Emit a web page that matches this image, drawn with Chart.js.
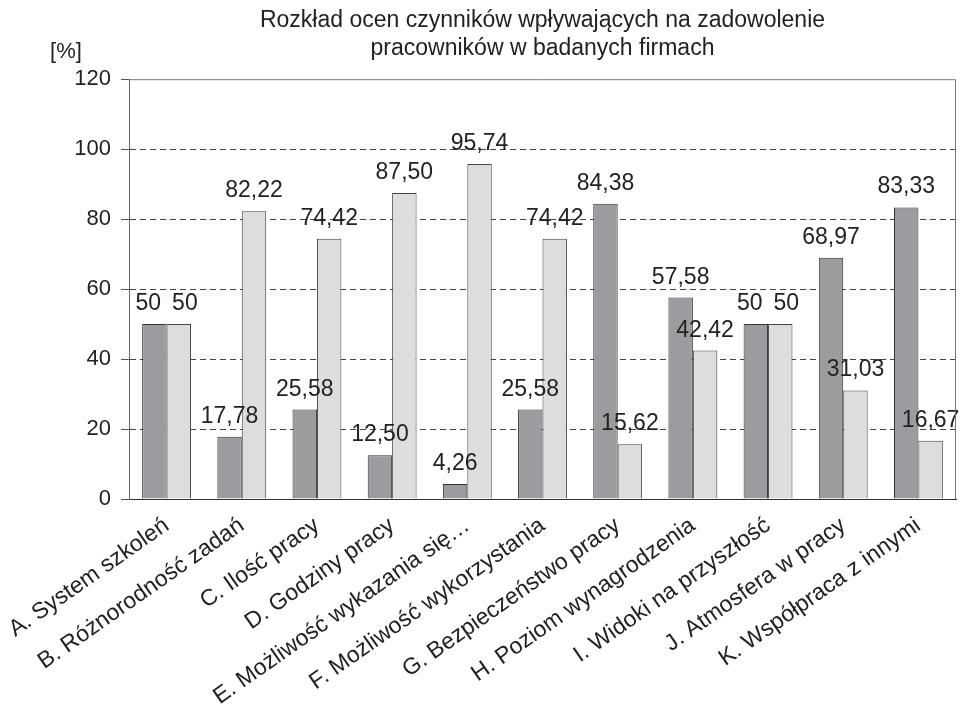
<!DOCTYPE html>
<html lang="pl">
<head>
    <meta charset="UTF-8">
    <title>Rozkład ocen czynników</title>
    <style>
        body {
            margin: 0;
            background: #fff;
        }
        #wrap {
            width: 961px;
            height: 712px;
        }
    </style>
</head>
<body>
    <div id="wrap"><canvas id="chart" width="961" height="712"></canvas></div>

    <script src="https://cdn.jsdelivr.net/npm/chart.js"></script>
    <script>
        const categories = [
            'A. System szkoleń',
            'B. Różnorodność zadań',
            'C. Ilość pracy',
            'D. Godziny pracy',
            'E. Możliwość wykazania się…',
            'F. Możliwość wykorzystania',
            'G. Bezpieczeństwo pracy',
            'H. Poziom wynagrodzenia',
            'I. Widoki na przyszłość',
            'J. Atmosfera w pracy',
            'K. Współpraca z innymi'
        ];
        const seriesDark = [50, 17.78, 25.58, 12.50, 4.26, 25.58, 84.38, 57.58, 50, 68.97, 83.33];
        const seriesLight = [50, 82.22, 74.42, 87.50, 95.74, 74.42, 15.62, 42.42, 50, 31.03, 16.67];
        const yTicks = [0, 20, 40, 60, 80, 100, 120];
        const titleLines = ['Rozkład ocen czynników wpływających na zadowolenie', 'pracowników w badanych firmach'];
        const yUnit = '[%]';

        const FONT = '"Liberation Sans", Arial, sans-serif';

        function fmt(v) {
            return Number.isInteger(v) ? String(v) : v.toFixed(2).replace('.', ',');
        }

        // value labels above bars, frame and the [%] unit
        const extras = {
            id: 'extras',
            afterDatasetsDraw(chart) {
                const ctx = chart.ctx;
                ctx.save();
                ctx.font = '23px ' + FONT;
                ctx.fillStyle = '#222';
                ctx.textAlign = 'center';
                ctx.textBaseline = 'alphabetic';
                const m0 = chart.getDatasetMeta(0).data;
                const m1 = chart.getDatasetMeta(1).data;
                const d0 = chart.data.datasets[0].data;
                const d1 = chart.data.datasets[1].data;
                m0.forEach((bar0, j) => {
                    const bar1 = m1[j];
                    const t0 = fmt(d0[j]);
                    const t1 = fmt(d1[j]);
                    let x0 = bar0.x;
                    let x1 = bar1.x;
                    // labels at the same height that would touch get pushed apart
                    if (Math.abs(bar0.y - bar1.y) < 20) {
                        const need = ctx.measureText(t0).width / 2 + ctx.measureText(t1).width / 2 + 11;
                        const have = x1 - x0;
                        if (have < need) {
                            x0 -= (need - have) / 2;
                            x1 += (need - have) / 2;
                        }
                    }
                    ctx.fillText(t0, x0, bar0.y - 14);
                    ctx.fillText(t1, x1, bar1.y - 14);
                });
                ctx.restore();
            },
            afterDraw(chart) {
                const ctx = chart.ctx;
                const a = chart.chartArea;
                ctx.save();
                ctx.strokeStyle = '#777';
                ctx.lineWidth = 1;
                ctx.beginPath();
                ctx.moveTo(a.left, a.top + 0.5);
                ctx.lineTo(a.right - 0.5, a.top + 0.5);
                ctx.lineTo(a.right - 0.5, a.bottom);
                ctx.stroke();
                ctx.font = '22px ' + FONT;
                ctx.fillStyle = '#222';
                ctx.textAlign = 'center';
                ctx.fillText(yUnit, 66, 58);
                ctx.restore();
            }
        };

        new Chart(document.getElementById('chart'), {
            type: 'bar',
            data: {
                labels: categories,
                datasets: [{
                    data: seriesDark,
                    backgroundColor: '#9b9ca0',
                    borderColor: '#333',
                    borderWidth: 1
                }, {
                    data: seriesLight,
                    backgroundColor: '#dcdddf',
                    borderColor: '#444',
                    borderWidth: 1
                }]
            },
            options: {
                responsive: false,
                animation: false,
                events: [],
                categoryPercentage: 0.65,
                barPercentage: 1,
                layout: {
                    padding: { left: 0, right: 5, top: 0, bottom: 0 }
                },
                plugins: {
                    legend: { display: false },
                    tooltip: { enabled: false },
                    title: {
                        display: true,
                        fullSize: false,
                        text: titleLines,
                        color: '#222',
                        font: { family: FONT, size: 23, weight: 'normal', lineHeight: 1.2 },
                        padding: { top: 7, bottom: 17 }
                    }
                },
                scales: {
                    x: {
                        grid: { display: false },
                        border: { display: true, color: '#333', width: 1 },
                        ticks: {
                            color: '#222',
                            font: { family: FONT, size: 23 },
                            minRotation: 35,
                            maxRotation: 35,
                            autoSkip: false,
                            padding: 5
                        },
                        afterFit(scale) {
                            scale.height = 213;
                            scale.paddingLeft = 0;
                            scale.paddingRight = 0;
                        }
                    },
                    y: {
                        min: 0,
                        max: 120,
                        afterBuildTicks(scale) {
                            scale.ticks = yTicks.map(v => ({ value: v }));
                        },
                        grid: {
                            color: ctx => (ctx.tick.value === 0 || ctx.tick.value === 120) ? 'rgba(0,0,0,0)' : '#444',
                            tickColor: '#555',
                            tickLength: 8,
                            lineWidth: 1
                        },
                        border: { display: true, color: '#666', width: 1, dash: [6, 4] },
                        ticks: {
                            color: '#222',
                            font: { family: FONT, size: 22 },
                            padding: 10
                        },
                        afterFit(scale) { scale.width = 129; }
                    }
                }
            },
            plugins: [extras]
        });
    </script>
</body>
</html>
